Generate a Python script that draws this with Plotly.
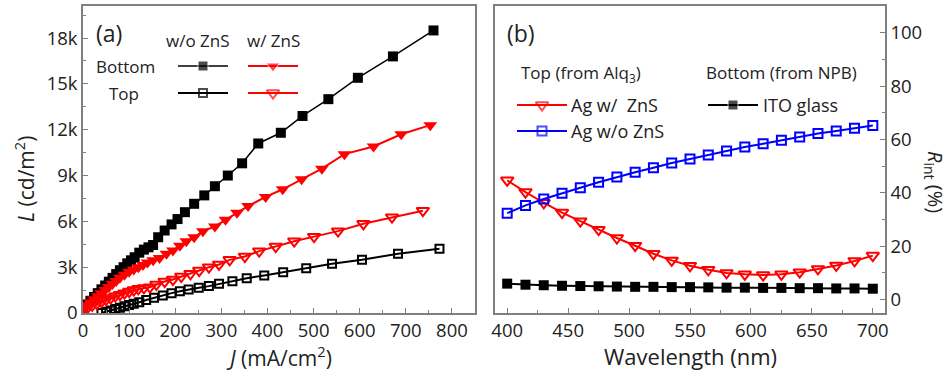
import plotly.graph_objects as go

W, H = 952, 371

# ---------------- Panel (a) data ----------------
J_bot_wo = [0, 8, 16, 24, 32, 40, 48, 56, 64, 72, 80, 88, 96, 104, 112, 122, 132, 142, 152, 163,
            177, 192, 205, 221, 241, 263, 286, 314, 345, 380, 429, 476, 532, 596, 672, 760]
L_bot_wo = [300, 550, 800, 1050, 1300, 1550, 1800, 2050, 2300, 2550, 2800, 3000, 3250, 3450, 3650,
            3950, 4150, 4300, 4450, 4960, 5400, 5800, 6150, 6600, 7150, 7700, 8300, 9000, 9800,
            11100, 11800, 12900, 14000, 15400, 16800, 18500]

J_bot_w = [0, 8, 16, 24, 32, 40, 48, 56, 64, 72, 80, 90, 100, 110, 120, 130, 140, 152, 166, 181,
           195, 210, 224, 241, 260, 286, 309, 334, 358, 396, 433, 474, 518, 567, 630, 690, 753]
L_bot_w = [300, 500, 700, 900, 1100, 1300, 1500, 1700, 1900, 2100, 2300, 2500, 2700, 2850, 3000,
           3150, 3300, 3450, 3600, 3880, 4100, 4400, 4700, 4960, 5360, 5660, 6100, 6560, 7000,
           7600, 8100, 8750, 9450, 10400, 10900, 11700, 12300]

J_top_w = [0, 10, 20, 30, 40, 50, 60, 70, 80, 90, 100, 110, 120, 132, 145, 159, 177, 195, 213,
           233, 252, 273, 295, 318, 351, 382, 418, 458, 501, 553, 608, 670, 737]
L_top_w = [200, 350, 500, 620, 750, 870, 980, 1100, 1200, 1300, 1400, 1500, 1580, 1640, 1690,
           1870, 2060, 2190, 2390, 2570, 2780, 3000, 3180, 3480, 3700, 4050, 4350, 4700, 5000,
           5360, 5840, 6270, 6700]

J_top_wo = [40, 50, 60, 70, 80, 90, 100, 110, 122, 137, 154, 173, 192, 210, 229, 251, 273, 295,
            324, 355, 393, 434, 484, 540, 605, 683, 773]
L_top_wo = [0, 80, 170, 260, 350, 440, 520, 600, 700, 850, 1000, 1150, 1300, 1420, 1540, 1650,
            1760, 1910, 2080, 2280, 2460, 2670, 2930, 3220, 3480, 3880, 4200]

a_ytickvals = [0, 3000, 6000, 9000, 12000, 15000, 18000]
a_yticktext = ["0", "3k", "6k", "9k", "12k", "15k", "18k"]

# ---------------- Panel (b) data ----------------
wavelength = [400, 415, 430, 445, 460, 475, 490, 505, 520, 535, 550, 565, 580, 595, 610, 625,
              640, 655, 670, 685, 700]
R_ag_w_zns = [44.7, 40.3, 36.3, 32.6, 29.4, 26.2, 23.1, 20.2, 17.2, 14.7, 12.7, 11.2, 10.0, 9.5,
              9.2, 9.5, 10.3, 11.5, 12.8, 14.5, 16.5]
R_ag_wo_zns = [32.4, 35.3, 37.7, 39.9, 41.9, 44.0, 45.9, 47.7, 49.4, 51.2, 52.7, 54.2, 55.7, 57.2,
               58.4, 59.7, 60.9, 62.2, 63.2, 64.2, 65.2]
R_ito = [6.0, 5.6, 5.4, 5.2, 5.1, 5.0, 4.9, 4.8, 4.8, 4.7, 4.7, 4.6, 4.5, 4.5, 4.4, 4.4, 4.3, 4.3,
         4.2, 4.2, 4.1]

FONT = "Open Sans"
AXC = "#7f7f7f"
TXT = "#222222"
RED = "#ff0000"
BLUE = "#0000ff"


def px(x):
    return x / W


def py(y):
    return 1 - y / H


# style definitions per series
S_BOT_WO = dict(line=dict(color="black", width=1.5),
                marker=dict(symbol="square", size=10, color="black"))
S_TOP_WO = dict(line=dict(color="black", width=2),
                marker=dict(symbol="square-open", size=8, color="black",
                            line=dict(width=2, color="black")))
S_BOT_W = dict(line=dict(color=RED, width=2),
               marker=dict(symbol="triangle-down", size=12, color=RED))
S_TOP_W = dict(line=dict(color=RED, width=2),
               marker=dict(symbol="triangle-down-open", size=11, color=RED,
                           line=dict(width=2, color=RED)))
S_AG_W = S_TOP_W
S_AG_WO = dict(line=dict(color=BLUE, width=2),
               marker=dict(symbol="square-open", size=9, color=BLUE,
                           line=dict(width=2, color=BLUE)))
S_ITO = dict(line=dict(color="black", width=2),
             marker=dict(symbol="square", size=10, color="black"))

fig = go.Figure()

# panel (a) traces
for xs, ys, st in [(J_bot_wo, L_bot_wo, S_BOT_WO), (J_top_wo, L_top_wo, S_TOP_WO),
                   (J_bot_w, L_bot_w, S_BOT_W), (J_top_w, L_top_w, S_TOP_W)]:
    fig.add_trace(go.Scatter(x=xs, y=ys, mode="lines+markers", showlegend=False,
                             xaxis="x", yaxis="y", **st))

# panel (b) traces
for ys, st in [(R_ag_w_zns, S_AG_W), (R_ag_wo_zns, S_AG_WO), (R_ito, S_ITO)]:
    fig.add_trace(go.Scatter(x=wavelength, y=ys, mode="lines+markers", showlegend=False,
                             xaxis="x2", yaxis="y2", **st))


# legend keys drawn on a pixel-space overlay axis
def key(xc, y, st, half=25):
    m = dict(st["marker"])
    sz = m["size"]
    m["size"] = [0, sz, 0]
    fig.add_trace(go.Scatter(x=[xc - half, xc, xc + half], y=[y, y, y], mode="lines+markers",
                             line=st["line"], marker=m, showlegend=False,
                             xaxis="x3", yaxis="y3", hoverinfo="skip"))


key(203, 66, S_BOT_WO)
key(273, 66, S_BOT_W)
key(203, 93, S_TOP_WO)
key(273, 93, S_TOP_W)
key(542, 105, S_AG_W)
key(542, 131, S_AG_WO)
key(733, 105, S_ITO)

ydom = [py(313), py(6)]
axis_common = dict(showline=True, linecolor=AXC, linewidth=1.5, mirror=True, showgrid=False,
                   zeroline=False, ticks="inside", tickcolor=AXC, ticklen=5, tickwidth=1,
                   automargin=False,
                   tickfont=dict(family=FONT, size=18.5, color=TXT))

fig.update_layout(
    width=W, height=H, margin=dict(l=0, r=0, t=0, b=0, autoexpand=False),
    paper_bgcolor="white", plot_bgcolor="rgba(0,0,0,0)", showlegend=False,
    font=dict(family=FONT, size=17, color=TXT),
    xaxis=dict(domain=[px(83), px(475)], range=[0, 850], dtick=100, anchor="y",
               minor=dict(ticks="inside", dtick=50, ticklen=3, tickcolor=AXC),
               **axis_common),
    yaxis=dict(domain=ydom, range=[0, 20100], tickvals=a_ytickvals, ticktext=a_yticktext,
               anchor="x",
               minor=dict(ticks="inside", dtick=1500, ticklen=3, tickcolor=AXC),
               **axis_common),
    xaxis2=dict(domain=[px(495), px(885)], range=[390, 710], dtick=50, anchor="y2",
                minor=dict(ticks="inside", dtick=25, ticklen=3, tickcolor=AXC),
                **axis_common),
    yaxis2=dict(domain=ydom, range=[-5, 110], dtick=20, anchor="x2", side="right",
                minor=dict(ticks="inside", dtick=10, ticklen=3, tickcolor=AXC),
                **axis_common),
    xaxis3=dict(domain=[0, 1], range=[0, W], visible=False, fixedrange=True, anchor="y3",
                automargin=False),
    yaxis3=dict(domain=[0, 1], range=[H, 0], visible=False, fixedrange=True, anchor="x3",
                automargin=False),
)

annots = [
    dict(text="(a)", x=109, y=33, size=23, xa="center"),
    dict(text="w/o ZnS", x=198, y=40, size=17, xa="center"),
    dict(text="w/ ZnS", x=273, y=40, size=17, xa="center"),
    dict(text="Bottom", x=125, y=66, size=17, xa="center"),
    dict(text="Top", x=124, y=93, size=17, xa="center"),
    dict(text="(b)", x=521, y=33, size=23, xa="center"),
    dict(text="Top (from Alq<sub>3</sub>)", x=581, y=73, size=17, xa="center"),
    dict(text="Bottom (from NPB)", x=781, y=72, size=17, xa="center"),
    dict(text="Ag w/  ZnS", x=569, y=105, size=18, xa="left"),
    dict(text="Ag w/o ZnS", x=569, y=131, size=18, xa="left"),
    dict(text="ITO glass", x=761, y=105, size=18, xa="left"),
    dict(text="<i>J</i> (mA/cm<sup>2</sup>)", x=279, y=356, size=21, xa="center"),
    dict(text="Wavelength (nm)", x=690, y=356, size=22, xa="center"),
]
for a in annots:
    fig.add_annotation(text=a["text"], x=px(a["x"]), y=py(a["y"]), xref="paper", yref="paper",
                       xanchor=a["xa"], yanchor="middle", showarrow=False,
                       font=dict(family=FONT, size=a["size"], color=TXT))
fig.add_annotation(text="<i>L</i> (cd/m<sup>2</sup>)", x=px(24), y=py(179), xref="paper",
                   yref="paper", xanchor="center", yanchor="middle", showarrow=False,
                   textangle=-90, font=dict(family=FONT, size=21, color=TXT))
fig.add_annotation(text="<i>R</i><sub>int</sub> (%)", x=px(935), y=py(182), xref="paper",
                   yref="paper", xanchor="center", yanchor="middle", showarrow=False,
                   textangle=90, font=dict(family=FONT, size=20, color=TXT))

fig.write_html("out.html")
